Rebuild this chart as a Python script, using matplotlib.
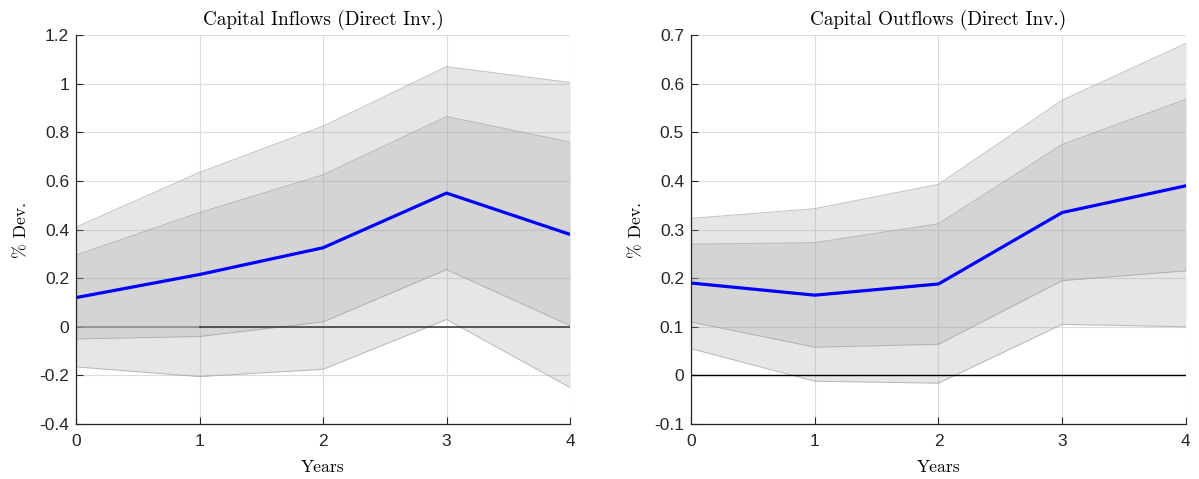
import matplotlib.pyplot as plt

# horizon (years)
years = [0, 1, 2, 3, 4]

# capital inflows (direct investment)
in_median = [0.12, 0.215, 0.325, 0.55, 0.38]
in_outer_hi = [0.41, 0.635, 0.825, 1.07, 1.005]
in_inner_hi = [0.295, 0.47, 0.625, 0.865, 0.76]
in_inner_lo = [-0.05, -0.04, 0.02, 0.235, 0.005]
in_outer_lo = [-0.165, -0.205, -0.175, 0.03, -0.25]

# capital outflows (direct investment)
out_median = [0.19, 0.165, 0.188, 0.335, 0.39]
out_outer_hi = [0.323, 0.343, 0.393, 0.566, 0.683]
out_inner_hi = [0.27, 0.273, 0.312, 0.475, 0.568]
out_inner_lo = [0.11, 0.058, 0.064, 0.195, 0.215]
out_outer_lo = [0.055, -0.012, -0.016, 0.105, 0.1]

titles = ['Capital Inflows (Direct Inv.)', 'Capital Outflows (Direct Inv.)']
ylims = [(-0.4, 1.2), (-0.1, 0.7)]
yticks = [[-0.4, -0.2, 0, 0.2, 0.4, 0.6, 0.8, 1, 1.2],
          [-0.1, 0, 0.1, 0.2, 0.3, 0.4, 0.5, 0.6, 0.7]]

TXT = '#262626'


def draw_panel(ax, med, ohi, ihi, ilo, olo, title, ylim, ticks, zero_split):
    ax.set_axisbelow(True)
    ax.grid(True, color='#dcdcdc', linewidth=0.8)
    band = (0.65, 0.65, 0.65)
    ax.fill_between(years, olo, ohi, color=band, alpha=0.28, linewidth=0)
    ax.fill_between(years, ilo, ihi, color=band, alpha=0.28, linewidth=0)
    for b in (ohi, ihi, ilo, olo):
        ax.plot(years, b, color='#999999', alpha=0.6, linewidth=0.7)
    # zero line (left panel: lighter between 0 and 1)
    if zero_split:
        ax.plot(years[:2], [0, 0], color='#8c8c8c', linewidth=1.2)
        ax.plot(years[1:], [0] * 4, color='#404040', linewidth=1.2)
    else:
        ax.plot(years, [0] * 5, color='black', linewidth=1.0)
    ax.plot(years, med, color='#0000ff', linewidth=2.3)

    ax.set_xlim(years[0], years[-1])
    ax.set_ylim(*ylim)
    ax.set_xticks(years)
    ax.set_yticks(ticks)
    ax.set_yticklabels([f'{t:g}' for t in ticks])
    ax.tick_params(direction='in', length=5, width=0.8, colors=TXT,
                   labelsize=12.5, top=False, right=False)
    ax.tick_params(axis='x', pad=7)
    ax.tick_params(axis='y', pad=5)
    for lab in ax.get_xticklabels() + ax.get_yticklabels():
        lab.set_family('Liberation Sans')
    ax.spines['top'].set_visible(False)
    ax.spines['right'].set_visible(False)
    for s in ('left', 'bottom'):
        ax.spines[s].set_color(TXT)
        ax.spines[s].set_linewidth(0.9)
    ax.set_title(title, family='cmr10', fontsize=13.8, color='black', pad=7)
    ax.set_xlabel('Years', family='cmr10', fontsize=12.7, labelpad=8)
    ax.set_ylabel('% Dev.', family='cmr10', fontsize=12.7, labelpad=7)


fig = plt.figure(figsize=(11.99, 4.79), dpi=100)
ax1 = fig.add_axes([0.0634, 0.1148, 0.412, 0.812])
ax2 = fig.add_axes([0.5763, 0.1148, 0.4128, 0.812])

draw_panel(ax1, in_median, in_outer_hi, in_inner_hi, in_inner_lo, in_outer_lo,
           titles[0], ylims[0], yticks[0], True)
draw_panel(ax2, out_median, out_outer_hi, out_inner_hi, out_inner_lo, out_outer_lo,
           titles[1], ylims[1], yticks[1], False)

fig.savefig('out.png', dpi=100)
